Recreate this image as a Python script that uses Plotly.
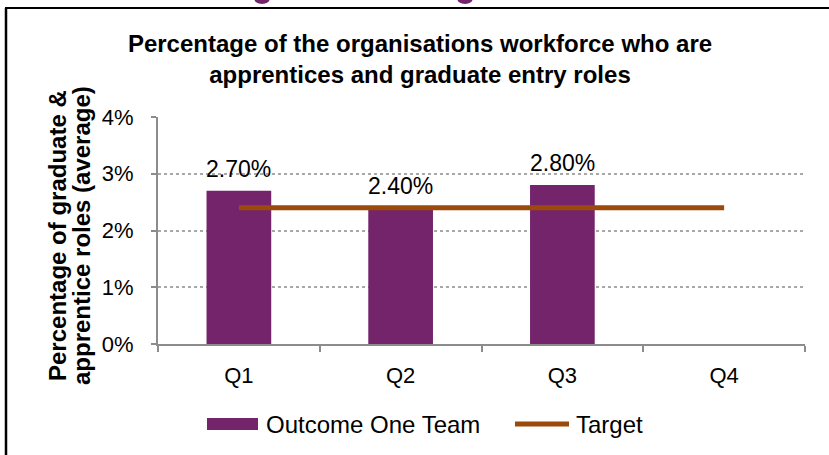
import plotly.graph_objects as go

# Data
quarters = ["Q1", "Q2", "Q3", "Q4"]
team_pct = [2.7, 2.4, 2.8, None]
target_pct = [2.4, 2.4, 2.4, 2.4]
series_names = ["Outcome One Team", "Target"]

title_text = ("Percentage of the organisations workforce who are<br>"
              "apprentices and graduate entry roles")
ytitle_lines = ["Percentage of graduate &", "apprentice roles (average)"]

PURPLE = "#74246B"
BROWN = "#9C4A0B"
AXIS = "#8C8C8C"
GRID = "#A8A8A8"
FONT = "Liberation Sans, Arial, sans-serif"

W, H = 829, 455
L, R, T, B = 158, 24, 117, 111
pw, ph = W - L - R, H - T - B


def px(xp):
    return (xp - L) / pw


def py(yp):
    return (H - B - yp) / ph


fig = go.Figure()

fig.add_trace(go.Bar(
    x=quarters, y=team_pct, name=series_names[0],
    marker=dict(color=PURPLE, line=dict(width=0)),
    width=0.4, showlegend=False,
))
fig.add_trace(go.Scatter(
    x=quarters, y=target_pct, name=series_names[1], mode="lines",
    line=dict(color=BROWN, width=5), showlegend=False,
))

# value labels above each bar
for q, v in zip(quarters, team_pct):
    if v is None:
        continue
    fig.add_annotation(
        x=q, y=v, text=f"{v:.2f}%", showarrow=False,
        yanchor="bottom", yshift=7,
        font=dict(family=FONT, size=23, color="#000000"),
    )

# rotated two-line axis title with tight line spacing
for line, cx in zip(ytitle_lines, (57, 81)):
    fig.add_annotation(
        xref="paper", yref="paper", x=px(cx), y=py(236),
        xanchor="center", yanchor="middle", textangle=-90,
        text=f"<b>{line}</b>", showarrow=False,
        font=dict(family=FONT, size=24, color="#000000"),
    )

# legend below the axis
LEG_Y = 424
shapes = [
    dict(type="rect", xref="paper", yref="paper",
         x0=px(207), x1=px(258), y0=py(430), y1=py(418),
         fillcolor=PURPLE, line=dict(width=0)),
    dict(type="line", xref="paper", yref="paper",
         x0=px(515), x1=px(569), y0=py(LEG_Y), y1=py(LEG_Y),
         line=dict(color=BROWN, width=5)),
]
for name, lx in zip(series_names, (264, 574)):
    fig.add_annotation(
        xref="paper", yref="paper", x=px(lx), y=py(LEG_Y),
        xanchor="left", yanchor="middle", text=name, showarrow=False,
        font=dict(family=FONT, size=24, color="#000000"),
    )

# slide frame and clipped heading glyphs above the chart
shapes += [
    dict(type="line", xref="paper", yref="paper",
         x0=px(5), x1=px(835), y0=py(8), y1=py(8),
         line=dict(color="#000000", width=2)),
    dict(type="line", xref="paper", yref="paper",
         x0=px(6), x1=px(6), y0=py(8), y1=py(460),
         line=dict(color="#000000", width=2.5)),
]
for cx in (262, 465):
    shapes.append(dict(type="circle", xref="paper", yref="paper",
                       x0=px(cx - 8), x1=px(cx + 8), y0=py(-8), y1=py(4),
                       fillcolor=PURPLE, line=dict(width=0)))

fig.update_layout(
    width=W, height=H,
    margin=dict(l=L, r=R, t=T, b=B, pad=0),
    paper_bgcolor="white", plot_bgcolor="white",
    font=dict(family=FONT, color="#000000"),
    title=dict(text=title_text, xref="container", x=420 / W, xanchor="center",
               yref="container", y=1 - 52 / H, yanchor="middle",
               font=dict(family=FONT, size=24, color="#000000", weight="bold")),
    bargap=0.6,
    showlegend=False,
    shapes=shapes,
)

fig.update_xaxes(
    type="category", categoryorder="array", categoryarray=quarters,
    showline=True, linecolor=AXIS, linewidth=2,
    ticks="outside", tickson="boundaries", ticklen=6, tickcolor=AXIS, tickwidth=2,
    tickfont=dict(family=FONT, size=22, color="#000000"),
    ticklabelstandoff=11,
    showgrid=False, zeroline=False,
)
fig.update_yaxes(
    range=[0, 4], dtick=1, ticksuffix="%",
    showline=True, linecolor=AXIS, linewidth=2,
    ticks="outside", ticklen=5, tickcolor=AXIS, tickwidth=2,
    tickfont=dict(family=FONT, size=22, color="#000000"),
    ticklabelstandoff=13,
    showgrid=True, gridcolor=GRID, gridwidth=1.5, griddash="dot",
    zeroline=False,
)

fig.write_html("out.html")
